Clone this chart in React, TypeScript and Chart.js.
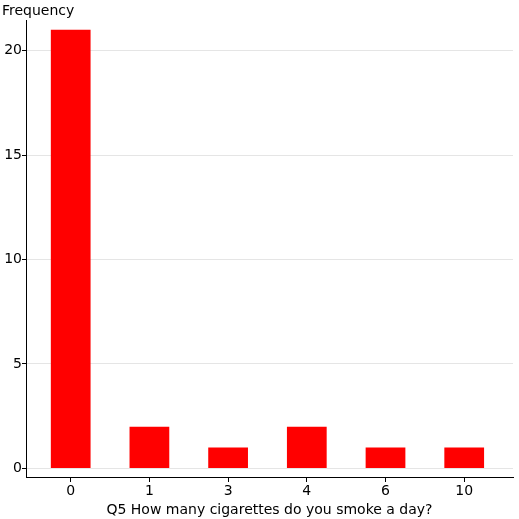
import React, { useEffect, useRef } from "react";
import { Chart, registerables } from "chart.js";

Chart.register(...registerables);

const categories = ["0", "1", "3", "4", "6", "10"];
const frequencies = [21, 2, 1, 2, 1, 1];
const yTickValues = [0, 5, 10, 15, 20];
const yTitle = "Frequency";
const xTitle = "Q5 How many cigarettes do you smoke a day?";

const FONT = "'DejaVu Sans', Verdana, sans-serif";

export default function App() {
  const ref = useRef<HTMLCanvasElement>(null);
  useEffect(() => {
    document.body.style.margin = "0";
    const ctx = ref.current!;
    const chart = new Chart(ctx, {
      type: "bar",
      data: {
        datasets: [
          {
            data: frequencies.map((v, i) => ({ x: i, y: v })),
            backgroundColor: "#ff0000",
            borderWidth: 0,
            barPercentage: 0.505,
            categoryPercentage: 1,
          },
        ],
      },
      options: {
        animation: false,
        responsive: false,
        devicePixelRatio: 1,
        layout: { padding: { left: 2, right: 6, top: 0, bottom: 0 } },
        plugins: {
          legend: { display: false },
          tooltip: { enabled: false },
          title: {
            display: true,
            text: yTitle,
            align: "start",
            color: "#000",
            font: { family: FONT, size: 14, weight: "normal", lineHeight: 1.2 },
            padding: { top: 3, bottom: 1 },
          },
        },
        scales: {
          x: {
            type: "linear",
            min: -0.568,
            max: 5.62,
            offset: false,
            afterBuildTicks: (s: any) => {
              s.ticks = categories.map((_, i) => ({ value: i }));
            },
            afterFit: (s: any) => {
              s.height = 42;
            },
            ticks: {
              color: "#000",
              font: { family: FONT, size: 14 },
              padding: 1,
              autoSkip: false,
              maxRotation: 0,
              callback: (v: any) => categories[Number(v)] ?? "",
            },
            grid: {
              display: true,
              offset: false,
              drawOnChartArea: false,
              color: "#000",
              tickColor: "#000",
              tickLength: 5,
            },
            border: { display: true, color: "#000", width: 1 },
            title: {
              display: true,
              text: xTitle,
              color: "#000",
              font: { family: FONT, size: 14 },
              padding: { top: 0, bottom: 0 },
            },
          },
          y: {
            type: "linear",
            min: -0.41,
            max: 21.43,
            afterBuildTicks: (s: any) => {
              s.ticks = yTickValues.map((v) => ({ value: v }));
            },
            afterFit: (s: any) => {
              s.width = 24;
            },
            ticks: {
              color: "#000",
              font: { family: FONT, size: 14 },
              padding: 0,
            },
            grid: {
              color: "#e5e5e5",
              tickColor: "#000",
              tickLength: 4,
            },
            border: { display: true, color: "#000", width: 1 },
          },
        },
      },
    });
    return () => chart.destroy();
  }, []);
  return <canvas ref={ref} width={519} height={519} />;
}
